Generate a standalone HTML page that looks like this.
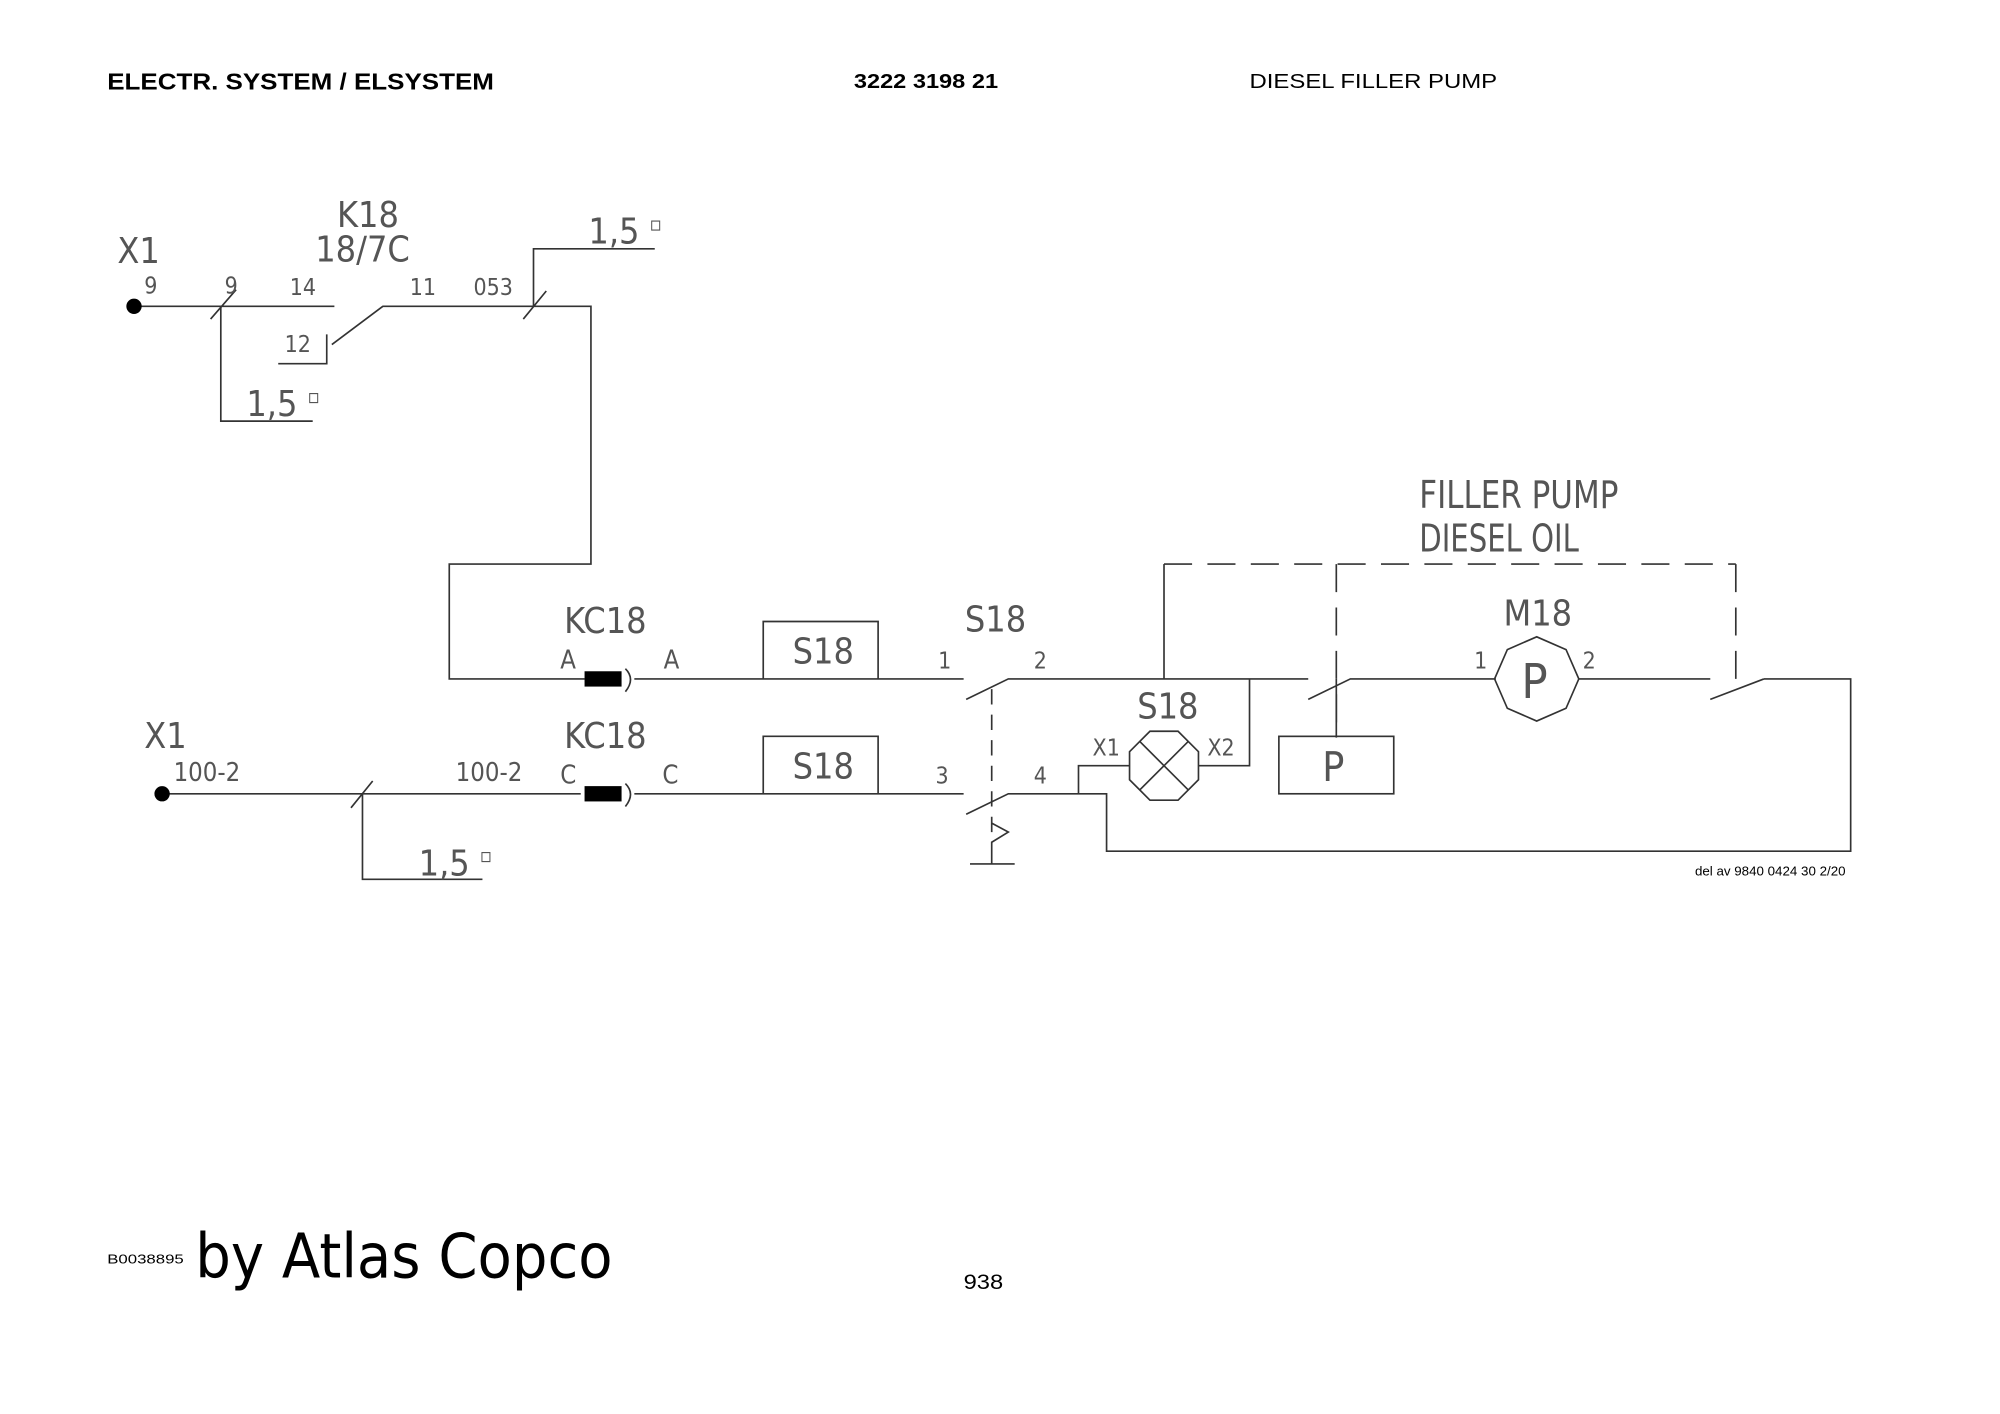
<!DOCTYPE html>
<html><head><meta charset="utf-8"><style>
html,body{margin:0;padding:0;background:#fff;}
svg{display:block}
.c{font-family:"Liberation Sans Narrow","DejaVu Sans Condensed","Liberation Sans",sans-serif;fill:#555;}
</style></head><body>
<svg width="2000" height="1414" viewBox="0 0 1567 1108" preserveAspectRatio="none" xmlns="http://www.w3.org/2000/svg">
<g font-family="Liberation Sans, sans-serif" fill="#000">
<text x="84" y="70" font-size="18" font-weight="bold" textLength="303" lengthAdjust="spacingAndGlyphs">ELECTR. SYSTEM / ELSYSTEM</text>
<text x="669" y="69" font-size="16" font-weight="bold" textLength="113" lengthAdjust="spacingAndGlyphs">3222 3198 21</text>
<text x="979" y="69" font-size="16" textLength="194" lengthAdjust="spacingAndGlyphs">DIESEL FILLER PUMP</text>
<text x="84" y="990" font-size="10" textLength="60" lengthAdjust="spacingAndGlyphs">B0038895</text>
<text x="153" y="1001" font-size="48" font-family="DejaVu Sans, sans-serif" textLength="327" lengthAdjust="spacingAndGlyphs">by Atlas Copco</text>
<text x="755" y="1010" font-size="17" textLength="31" lengthAdjust="spacingAndGlyphs">938</text>
<text x="1328" y="686" font-size="10" textLength="118" lengthAdjust="spacingAndGlyphs">del av 9840 0424 30  2/20</text>
</g>
<g stroke="#333" stroke-width="1.3" fill="none">
<path d="M105 240H262 M173 240V330H245 M260 270L300 240H463V442H352V532H458"/>
<path d="M165 250L185 227 M410 250L428 228"/>
<path d="M256 262V285H218 M418 240V195H513"/>
<path d="M497 532H755 M598 532V487H688V532"/>
<path d="M490 524Q498 532 490 542"/>
<path d="M127 622H455 M497 622H755 M598 622V577H688V622 M284 622V689H378 M275 633L292 612"/>
<path d="M490 614Q498 622 490 632"/>
<path d="M777 540V660" stroke-dasharray="12 8"/>
<path d="M757 548L790 532H1025 M757 638L790 622H845"/>
<path d="M777 645L790 652L777 660V677 M760 677H795"/>
<path d="M845 622V600H885 M939 600H979V532 M845 622H867V667H1450V532H1382"/>
<polygon points="901,573 923,573 939,589 939,611 923,627 901,627 885,611 885,589"/>
<path d="M893 581L931 619 M931 581L893 619"/>
<path d="M1025 548L1058 532H1172 M1237 532H1340 M1340 548L1382 532"/>
<polygon points="1204,499 1227,509 1237,532 1227,555 1204,565 1181,555 1171,532 1181,509"/>
<rect x="1002" y="577" width="90" height="45"/>
<path d="M1047 578V532" />
<path d="M912 442H1360 M1047 442V578 M1360 442V540" stroke-dasharray="22 12"/>
<path d="M912 442V532"/>
</g>
<rect x="458" y="526" width="29" height="12" fill="#000"/>
<rect x="458" y="616" width="29" height="12" fill="#000"/>
<circle cx="105" cy="240" r="6" fill="#000"/>
<circle cx="127" cy="622" r="6" fill="#000"/>
<g class="c">
<text x="92" y="206" font-size="28">X1</text>
<text x="264" y="178" font-size="28">K18</text>
<text x="247" y="205" font-size="28">18/7C</text>
<text x="113" y="230" font-size="18">9</text>
<text x="176" y="230" font-size="18">9</text>
<text x="227" y="231" font-size="18">14</text>
<text x="223" y="276" font-size="18">12</text>
<text x="321" y="231" font-size="18">11</text>
<text x="371" y="231" font-size="18">053</text>
<text x="193" y="326" font-size="28">1,5 <tspan font-size="16" dy="-10">▫</tspan></text>
<text x="461" y="191" font-size="28">1,5 <tspan font-size="16" dy="-10">▫</tspan></text>
<text x="328" y="686" font-size="28">1,5 <tspan font-size="16" dy="-10">▫</tspan></text>
<text x="442" y="496" font-size="28">KC18</text>
<text x="442" y="586" font-size="28">KC18</text>
<text x="439" y="524" font-size="20">A</text>
<text x="520" y="524" font-size="20">A</text>
<text x="439" y="614" font-size="20">C</text>
<text x="519" y="614" font-size="20">C</text>
<text x="113" y="586" font-size="28">X1</text>
<text x="136" y="612" font-size="20">100-2</text>
<text x="357" y="612" font-size="20">100-2</text>
<text x="621" y="520" font-size="28">S18</text>
<text x="621" y="610" font-size="28">S18</text>
<text x="735" y="524" font-size="18">1</text>
<text x="733" y="614" font-size="18">3</text>
<text x="756" y="495" font-size="28">S18</text>
<text x="810" y="524" font-size="18">2</text>
<text x="810" y="614" font-size="18">4</text>
<text x="891" y="563" font-size="28">S18</text>
<text x="856" y="592" font-size="18">X1</text>
<text x="946" y="592" font-size="18">X2</text>
<text x="1178" y="490" font-size="28">M18</text>
<text x="1155" y="524" font-size="18">1</text>
<text x="1240" y="524" font-size="18">2</text>
<text x="1192" y="547" font-size="38">P</text>
<text x="1036" y="612" font-size="32">P</text>
<text x="1112" y="398" font-size="30" textLength="156" lengthAdjust="spacingAndGlyphs">FILLER PUMP</text>
<text x="1112" y="432" font-size="30" textLength="125" lengthAdjust="spacingAndGlyphs">DIESEL OIL</text>
</g>
</svg>
</body></html>
